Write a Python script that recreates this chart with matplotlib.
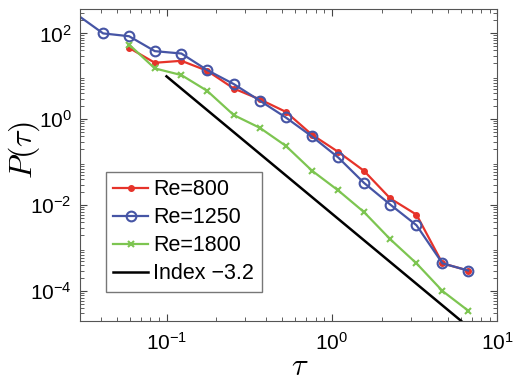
import matplotlib
matplotlib.use("Agg")
import matplotlib.pyplot as plt
import numpy as np

plt.rcParams['font.family'] = ['Liberation Sans', 'DejaVu Sans']
plt.rcParams['mathtext.fontset'] = 'custom'
plt.rcParams['mathtext.rm'] = 'Liberation Sans'
plt.rcParams['mathtext.it'] = 'Liberation Sans:italic'

# data
tau_800 = [0.0594, 0.085, 0.123, 0.176, 0.255, 0.367, 0.526, 0.755, 1.09, 1.56, 2.25, 3.24, 4.65, 6.64]
p_800 = [46, 20.7, 23, 13.5, 5.2, 2.9, 1.49, 0.44, 0.174, 0.063, 0.0143, 0.006, 4.4e-4, 3.0e-4]

tau_1250 = [0.0289, 0.0414, 0.0594, 0.085, 0.123, 0.176, 0.255, 0.367, 0.526, 0.755, 1.09, 1.56, 2.25, 3.24, 4.65, 6.64]
p_1250 = [270, 100, 86, 38.6, 34, 14, 6.6, 2.7, 1.1, 0.40, 0.129, 0.033, 0.0103, 0.0034, 4.4e-4, 3.0e-4]

tau_1800 = [0.0594, 0.085, 0.123, 0.176, 0.255, 0.367, 0.526, 0.755, 1.09, 1.56, 2.25, 3.24, 4.65, 6.64]
p_1800 = [55, 15.3, 10.7, 4.6, 1.25, 0.63, 0.24, 0.064, 0.022, 0.0069, 0.0016, 4.4e-4, 1.0e-4, 3.5e-5]

tau_fit = [0.1, 7.0]
fit_index = -3.2
fit_p0 = 10.0

fig = plt.figure(figsize=(5.18, 3.82), dpi=100)
ax = fig.add_axes([0.1544, 0.1597, 0.806, 0.8167])

ax.plot(tau_800, p_800, '-', color='#e6332a', lw=1.6, marker='.', ms=8, label='Re=800')
# first Re=1250 point sits just outside the left limit, no marker drawn there
ax.plot(tau_1250, p_1250, '-', color='#4655a5', lw=1.6, marker='o', ms=7, mfc='none', mew=1.5,
        markevery=list(range(1, len(tau_1250))), label='Re=1250')
ax.plot(tau_1800, p_1800, '-', color='#7dc551', lw=1.6, marker='x', ms=5, mew=1.5, label='Re=1800')
tf = np.array(tau_fit)
ax.plot(tf, fit_p0 * (tf / tau_fit[0]) ** fit_index, '-', color='black', lw=1.8, label='Index \u22123.2')

ax.set_xscale('log')
ax.set_yscale('log')
ax.set_xlim(0.03, 10)
ax.set_ylim(2.0e-5, 370)
ax.set_yticks([1e-4, 1e-2, 1e0, 1e2])
ax.tick_params(which='both', direction='in', top=True, right=True, labelsize=15, colors='#444444')
ax.tick_params(which='major', length=5)
ax.tick_params(which='minor', length=3)
ax.tick_params(axis='x', pad=8)
ax.tick_params(axis='y', pad=6)
for lab in ax.get_xticklabels() + ax.get_yticklabels():
    lab.set_color('black')
for s in ax.spines.values():
    s.set_color('#555555')

ax.set_xlabel(r'$\tau$', fontsize=22, math_fontfamily='cm')
ax.set_ylabel(r'$P(\tau)$', fontsize=23, math_fontfamily='cm')
ax.xaxis.set_label_coords(0.527, -0.10)
ax.yaxis.set_label_coords(-0.09, 0.55)

leg = ax.legend(loc='upper left', bbox_to_anchor=(0.062, 0.478), borderaxespad=0,
                fontsize=15.5, fancybox=False, framealpha=1, edgecolor='#777777',
                handlelength=1.6, handletextpad=0.25, labelspacing=0.32, borderpad=0.35)
leg.get_frame().set_linewidth(1.0)

fig.savefig('out.png', dpi=100)
